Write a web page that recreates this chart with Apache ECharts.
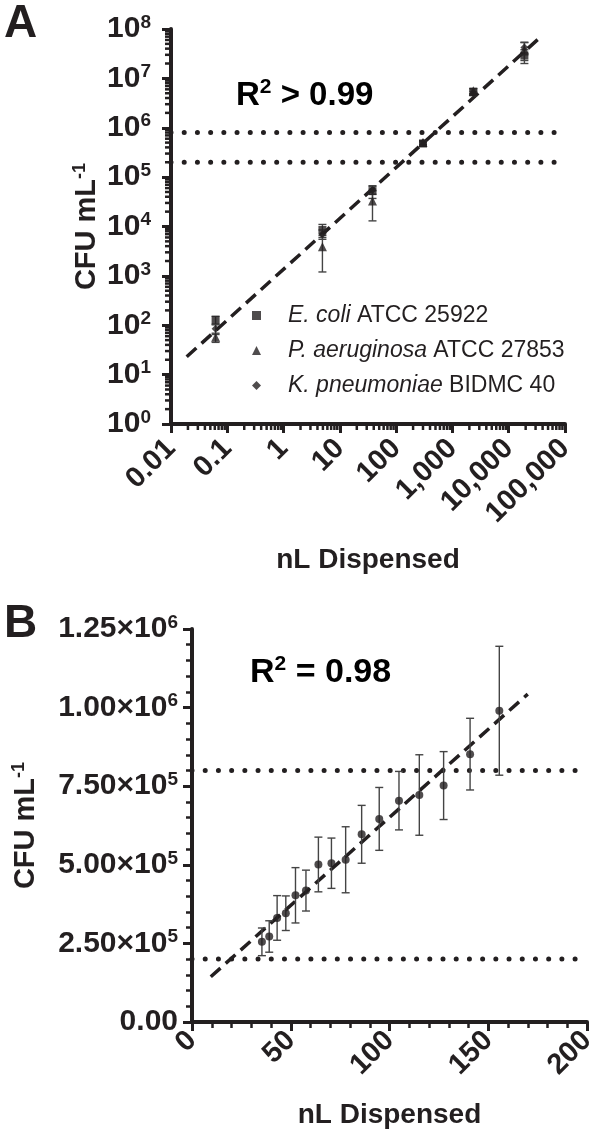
<!DOCTYPE html>
<html><head><meta charset="utf-8">
<script src="https://cdn.jsdelivr.net/npm/echarts@6/dist/echarts.min.js"></script>
<style>html,body{margin:0;padding:0;background:#fff}#c{width:600px;height:1133px}</style>
</head><body><div id="c"></div>
<script>
// ---------- Panel A data ----------
const speciesA = ['E. coli', 'P. aeruginosa', 'K. pneumoniae'];
const strainsA = ['ATCC 25922', 'ATCC 27853', 'BIDMC 40'];
const xA = [0.062, 4.9, 38, 300, 2350, 19000];
const ecoliY = [127, 8500, 52000, 480000, 5300000, 29000000];
const ecoliErr = [25, 2500, 15000, 60000, 800000, 9000000];
const paerY = [57, 3900, 33000, 500000, 5600000, 38000000];
const paerErr = [12, 2700, 20000, 50000, 700000, 15000000];
const kpnY = [85, 7000, 55000, 500000, 5000000, 42000000];
const kpnErr = [20, 1500, 10000, 40000, 500000, 12000000];
const fitA = [[0.019, 23], [40000, 75000000]];
const thresholds = [800000, 200000];
const xRangeA = [0.01, 100000];
const yRangeA = [1, 100000000];
const xTickLabelsA = ['0.01', '0.1', '1', '10', '100', '1,000', '10,000', '100,000'];
const yTickLabelsA = ['10^0', '10^1', '10^2', '10^3', '10^4', '10^5', '10^6', '10^7', '10^8'];
const minorStepsLog = [2, 3, 4, 5, 6, 7, 8, 9];

// ---------- Panel B data ----------
const xB = [35.4, 39.1, 43.1, 47.5, 52.4, 57.7, 64.0, 70.6, 77.8, 85.9, 94.8, 104.8, 115.1, 127.4, 140.8, 155.6];
const yB = [255000, 272000, 331000, 346000, 403000, 418000, 501000, 505000, 516000, 597000, 646000, 704000, 722000, 752000, 852000, 990000];
const errB = [44000, 50000, 71000, 55000, 88000, 65000, 87000, 80000, 105000, 92000, 100000, 93000, 128000, 108000, 114000, 205000];
const fitB = [[9.5, 144000], [170, 1043000]];
const xRangeB = [0, 200];
const yRangeB = [0, 1250000];
const xTickLabelsB = ['0', '50', '100', '150', '200'];
const yTickLabelsB = ['0.00', '2.50×10^5', '5.00×10^5', '7.50×10^5', '1.00×10^6', '1.25×10^6'];

const yName = 'CFU mL^-1';
const xName = 'nL Dispensed';

// ---------- styling ----------
const ink = '#231f20';
const barInk = '#444444';
const FF = "'Liberation Sans', Arial, Helvetica, sans-serif";

function sup(s, b, p) {
  const parts = s.split('^');
  return '{' + b + '|' + parts[0] + '}' + (parts[1] ? '{' + p + '|' + parts[1] + '}' : '');
}
function richSet(size, supSize, lh, weight) {
  return {
    b: { fontSize: size, fontWeight: weight, fontFamily: FF, color: ink, lineHeight: lh },
    s: { fontSize: supSize, fontWeight: weight, fontFamily: FF, color: ink, lineHeight: supSize, verticalAlign: 'top' }
  };
}

function axisBase(extra) {
  return Object.assign({
    axisLine: { show: true, onZero: false, lineStyle: { color: ink, width: 4 } },
    axisTick: { show: true, inside: false, length: 9, lineStyle: { color: ink, width: 3 } },
    splitLine: { show: false },
    minorSplitLine: { show: false },
    nameMoveOverlap: false
  }, extra);
}

function errorBars(xs, ys, es, gi) {
  return {
    type: 'custom', xAxisIndex: gi, yAxisIndex: gi, silent: true, z: 3, clip: false,
    data: xs.map((x, i) => [x, ys[i] - es[i], ys[i] + es[i]]),
    encode: { x: 0, y: [1, 2] },
    renderItem: function (params, api) {
      const x = api.value(0);
      const top = api.coord([x, api.value(2)]);
      const bot = api.coord([x, api.value(1)]);
      const w = 4;
      const st = { stroke: barInk, lineWidth: 1.4 };
      return {
        type: 'group', children: [
          { type: 'line', shape: { x1: top[0], y1: top[1], x2: bot[0], y2: bot[1] }, style: st },
          { type: 'line', shape: { x1: top[0] - w, y1: top[1], x2: top[0] + w, y2: top[1] }, style: st },
          { type: 'line', shape: { x1: bot[0] - w, y1: bot[1], x2: bot[0] + w, y2: bot[1] }, style: st }
        ]
      };
    }
  };
}

// log-axis minor ticks (2..9 of each decade), placed through the axis scale
function logMinorValues(range) {
  const out = [];
  for (let d = range[0]; d < range[1] * 0.999; d *= 10) {
    minorStepsLog.forEach(m => out.push(d * m));
  }
  return out;
}
function minorTicksSeries(isX) {
  const vals = logMinorValues(isX ? xRangeA : yRangeA);
  return {
    type: 'custom', xAxisIndex: 0, yAxisIndex: 0, silent: true, z: 6, clip: false,
    data: vals.map(v => isX ? [v, yRangeA[0]] : [xRangeA[0], v]),
    encode: { x: 0, y: 1 },
    renderItem: function (params, api) {
      const p = api.coord([api.value(0), api.value(1)]);
      const L = 6;
      const shape = isX ? { x1: p[0], y1: p[1], x2: p[0], y2: p[1] + L }
                        : { x1: p[0] - L, y1: p[1], x2: p[0], y2: p[1] };
      return { type: 'line', shape: shape, style: { stroke: ink, lineWidth: 2.5 } };
    }
  };
}

function hLine(y, range, gi) {
  return {
    type: 'line', xAxisIndex: gi, yAxisIndex: gi, silent: true, z: 1,
    data: [[range[0], y], [range[1], y]], showSymbol: false, symbol: 'none',
    lineStyle: { color: ink, width: 5, type: [0.01, 13.2], cap: 'round' }
  };
}
function fitLine(pts, gi) {
  return {
    type: 'line', xAxisIndex: gi, yAxisIndex: gi, silent: true, z: 2,
    data: pts, showSymbol: false, symbol: 'none',
    lineStyle: { color: ink, width: 3.5, type: [13, 7] }
  };
}

const symA = ['rect', 'triangle', 'diamond'];
const symSizeA = [8, 9, 8];
const ysA = [ecoliY, paerY, kpnY];
const errsA = [ecoliErr, paerErr, kpnErr];

const series = [];
thresholds.forEach(t => series.push(hLine(t, xRangeA, 0)));
series.push(fitLine(fitA, 0));
for (let k = 2; k >= 0; k--) series.push(errorBars(xA, ysA[k], errsA[k], 0));
for (let k = 2; k >= 0; k--) {
  series.push({
    type: 'scatter', name: speciesA[k], xAxisIndex: 0, yAxisIndex: 0, z: 4,
    symbol: symA[k], symbolSize: symSizeA[k],
    itemStyle: { color: ink },
    data: xA.map((x, i) => [x, ysA[k][i]])
  });
}
series.push(minorTicksSeries(true));
series.push(minorTicksSeries(false));
thresholds.forEach(t => series.push(hLine(t, xRangeB, 1)));
series.push(fitLine(fitB, 1));
series.push(errorBars(xB, yB, errB, 1));
series.push({
  type: 'scatter', name: 'B', xAxisIndex: 1, yAxisIndex: 1, z: 4,
  symbol: 'circle', symbolSize: 8, itemStyle: { color: ink },
  data: xB.map((x, i) => [x, yB[i]])
});

const xTickFont = 29;
const yTickFont = 30;
const nameFont = 29;
const option = {
  animation: false,
  backgroundColor: '#fff',
  grid: [
    { left: 171, top: 29, width: 394, height: 395, containLabel: false, outerBoundsMode: 'none' },
    { left: 192, top: 629, width: 395, height: 393, containLabel: false, outerBoundsMode: 'none' }
  ],
  xAxis: [
    axisBase({
      type: 'log', gridIndex: 0, logBase: 10, min: xRangeA[0], max: xRangeA[1],
      minorTick: { show: false },
      axisLabel: {
        rotate: 45, margin: 20, color: ink, fontSize: xTickFont, fontWeight: 'bold', fontFamily: FF,
        formatter: v => xTickLabelsA[Math.round(Math.log10(v)) + 2]
      },
      name: xName, nameLocation: 'middle', nameGap: 122,
      nameTextStyle: { fontSize: 28, fontWeight: 'bold', fontFamily: FF, color: ink }
    }),
    axisBase({
      type: 'value', gridIndex: 1, min: xRangeB[0], max: xRangeB[1], interval: 50,
      minorTick: { show: true, splitNumber: 5, length: 6, lineStyle: { color: ink, width: 2.5 } },
      axisLabel: {
        rotate: 45, margin: 14, color: ink, fontSize: xTickFont, fontWeight: 'bold', fontFamily: FF,
        formatter: v => xTickLabelsB[Math.round(v / 50)]
      },
      name: xName, nameLocation: 'middle', nameGap: 79,
      nameTextStyle: { fontSize: 28, fontWeight: 'bold', fontFamily: FF, color: ink }
    })
  ],
  yAxis: [
    axisBase({
      type: 'log', gridIndex: 0, logBase: 10, min: yRangeA[0], max: yRangeA[1],
      minorTick: { show: false },
      axisLabel: {
        margin: 20, formatter: v => sup(yTickLabelsA[Math.round(Math.log10(v))], 'b', 's'),
        rich: richSet(yTickFont, 19, 32, 'bold')
      },
      name: sup(yName, 'b', 's'), nameLocation: 'middle', nameGap: 68,
      nameTextStyle: { rich: richSet(nameFont, 18, 32, 'bold') }
    }),
    axisBase({
      type: 'value', gridIndex: 1, min: yRangeB[0], max: yRangeB[1], interval: 250000,
      minorTick: { show: true, splitNumber: 5, length: 6, lineStyle: { color: ink, width: 2.5 } },
      axisLabel: {
        margin: 14, formatter: v => sup(yTickLabelsB[Math.round(v / 250000)], 'b', 's'),
        rich: richSet(yTickFont, 19, 32, 'bold')
      },
      name: sup(yName, 'b', 's'), nameLocation: 'middle', nameGap: 150,
      nameTextStyle: { rich: richSet(nameFont, 18, 32, 'bold') }
    })
  ],
  legend: {
    data: speciesA, orient: 'vertical', left: 247, top: 299, itemWidth: 9, itemHeight: 9, itemGap: 12,
    selectedMode: false,
    formatter: name => '{g|}{i|' + name + '} {n|' + strainsA[speciesA.indexOf(name)] + '}',
    textStyle: {
      color: ink, fontFamily: FF, fontSize: 23,
      rich: {
        g: { width: 22, lineHeight: 25 },
        i: { fontStyle: 'italic', fontSize: 23, fontFamily: FF, color: ink, lineHeight: 25 },
        n: { fontSize: 23, fontFamily: FF, color: ink, lineHeight: 25 }
      }
    }
  },
  graphic: [
    { type: 'text', left: 4, top: 1, style: { text: 'A', font: 'bold 46px ' + FF, fill: ink } },
    { type: 'text', left: 4, top: 601, style: { text: 'B', font: 'bold 46px ' + FF, fill: ink } },
    { type: 'text', left: 236, top: 77, style: { text: '{b|R}{s|2}{b| > 0.99}', rich: richSet(33, 21, 38, 'bold') } },
    { type: 'text', left: 250, top: 654, style: { text: '{b|R}{s|2}{b| = 0.98}', rich: richSet(34, 21, 38, 'bold') } }
  ],
  series: series
};

const chart = echarts.init(document.getElementById('c'), null, { renderer: 'canvas' });
chart.setOption(option);
</script></body></html>
